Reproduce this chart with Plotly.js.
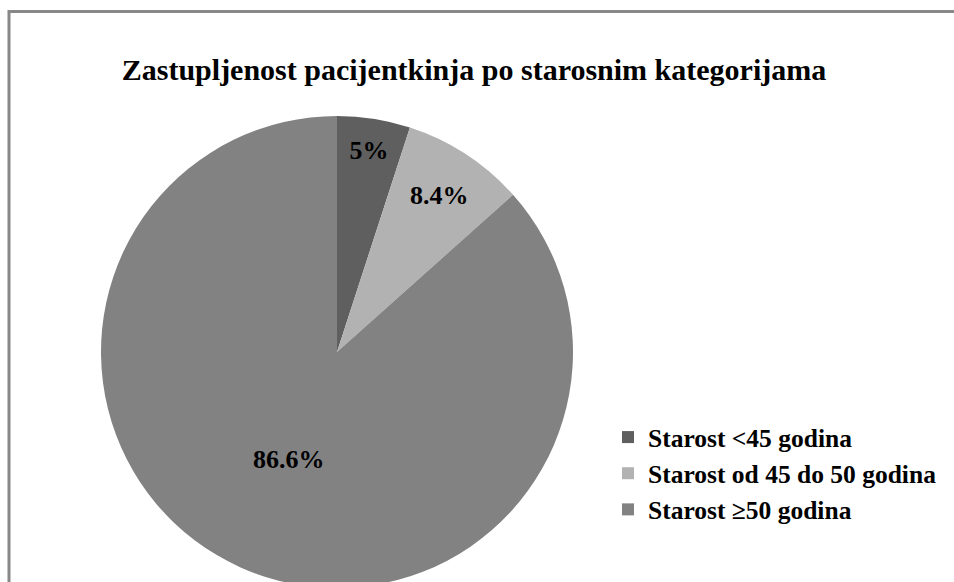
<!DOCTYPE html>
<html><head><meta charset="utf-8">
<script src="https://cdn.plot.ly/plotly-3.0.1.min.js"></script>
<style>html,body{margin:0;padding:0;overflow:hidden;background:#fff}</style>
</head><body>
<div id="chart" style="width:954px;height:590px"></div>
<script>
const categories = ["Starost <45 godina", "Starost od 45 do 50 godina", "Starost \u226550 godina"];
const values = [5, 8.4, 86.6];
const colors = ["#5f5f5f", "#b2b2b2", "#828282"];
const titleText = "Zastupljenost pacijentkinja po starosnim kategorijama";

const W = 954, H = 590;
const serif = "Liberation Serif, Times New Roman, serif";
const labelFont = {family: serif, size: 26, color: "#000", weight: "bold"};
const trace = {
  type: "pie",
  labels: categories,
  values: values,
  text: values.map(v => v + "%"),
  textinfo: "text",
  textposition: "inside",
  insidetextorientation: "horizontal",
  sort: false,
  direction: "clockwise",
  rotation: 0,
  marker: {colors: colors, line: {width: 0}},
  textfont: labelFont,
  insidetextfont: labelFont,
  domain: {x: [101/W, 573/W], y: [2/H, 474/H]},
  hoverinfo: "none"
};
const layout = {
  width: W, height: H,
  margin: {l: 0, r: 0, t: 0, b: 0},
  paper_bgcolor: "#fff",
  font: {family: serif, color: "#000"},
  title: {text: "<b>" + titleText + "</b>", font: {family: serif, size: 30, color: "#000"},
          x: 474/W, xanchor: "center", y: 1 - 69/H, yanchor: "middle"},
  showlegend: true,
  legend: {x: 608/W, y: 1 - 414/H, xanchor: "left", yanchor: "top",
           font: {family: serif, size: 25.5, color: "#000", weight: "bold"},
           tracegroupgap: 0, itemwidth: 30},
  shapes: [
    {type: "line", xref: "paper", yref: "paper", x0: 8.5/W, x1: 1, y0: 1 - 11.5/H, y1: 1 - 11.5/H, line: {color: "#888888", width: 3}},
    {type: "line", xref: "paper", yref: "paper", x0: 9/W, x1: 9/W, y0: 1 - 10/H, y1: 0, line: {color: "#888888", width: 3}}
  ]
};
Plotly.newPlot("chart", [trace], layout, {staticPlot: true});
</script>
</body></html>
